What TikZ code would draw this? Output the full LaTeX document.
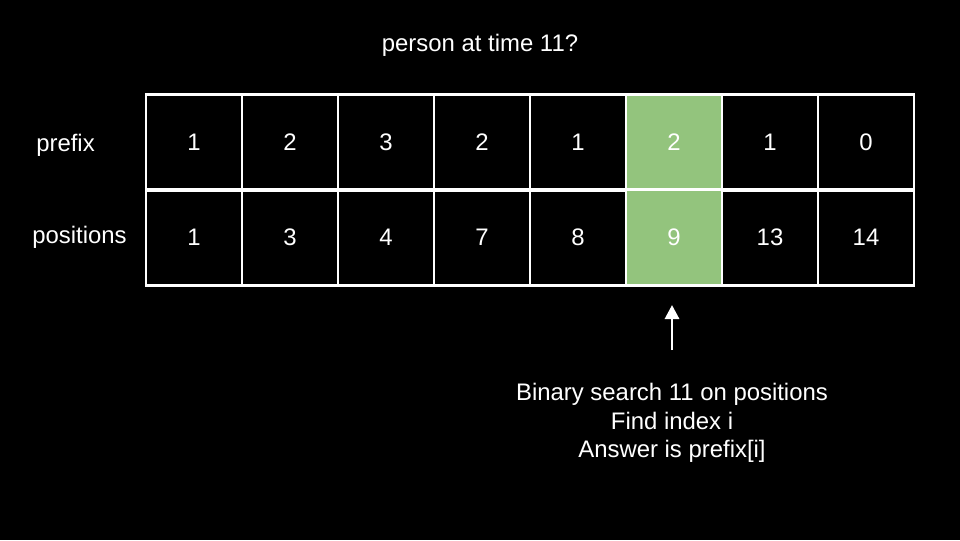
\documentclass[tikz,border=0pt]{standalone}
\usepackage{fontspec}
\setmainfont{Liberation Sans}
\usetikzlibrary{arrows.meta}
\definecolor{hitgreen}{HTML}{93C47D}
\begin{document}
\begin{tikzpicture}[
        cell/.style={rectangle, draw=white, line width=2.1pt, minimum width=2.4cm, minimum height=2.4cm, text=white, font=\fontsize{17}{20}\selectfont},
        hit/.style={cell, fill=hitgreen},
        label/.style={text=white, font=\fontsize{17}{20}\selectfont, inner sep=0pt},
        arrow/.style={-{Triangle[width=10pt,length=10pt]}, white, line width=2.1pt}
    ]
        \fill[black] (0,0) rectangle (24,13.5);
        \useasboundingbox (0,0) rectangle (24,13.5);

        \node[label, anchor=base] (title) at (12,12.2) {person at time 11?};
        \node[label, anchor=base west] (prefixlbl) at (0.9,9.71) {prefix};
        \node[label, anchor=base west] (poslbl) at (0.8,7.42) {positions};

        \foreach \i/\p/\q in {1/1/1, 2/2/3, 3/3/4, 4/2/7, 5/1/8, 7/1/13, 8/0/14} {
            \node[cell] (p\i) at (2.45+2.4*\i,9.9375) {\p};
            \node[cell] (q\i) at (2.45+2.4*\i,7.5625) {\q};
        }
        \node[hit] (p6) at (16.85,9.9375) {2};
        \node[hit] (q6) at (16.85,7.5625) {9};

        \coordinate (tail) at (16.8,4.75);
        \coordinate (tip) at (16.8,5.875);
        \draw[arrow] (tail) -- (tip);

        \node[label, anchor=north, align=center, font=\fontsize{17}{20.2}\selectfont] (note) at (16.8,3.92)
            {Binary search 11 on positions\\Find index i\\Answer is prefix[i]};
    \end{tikzpicture}
\end{document}
